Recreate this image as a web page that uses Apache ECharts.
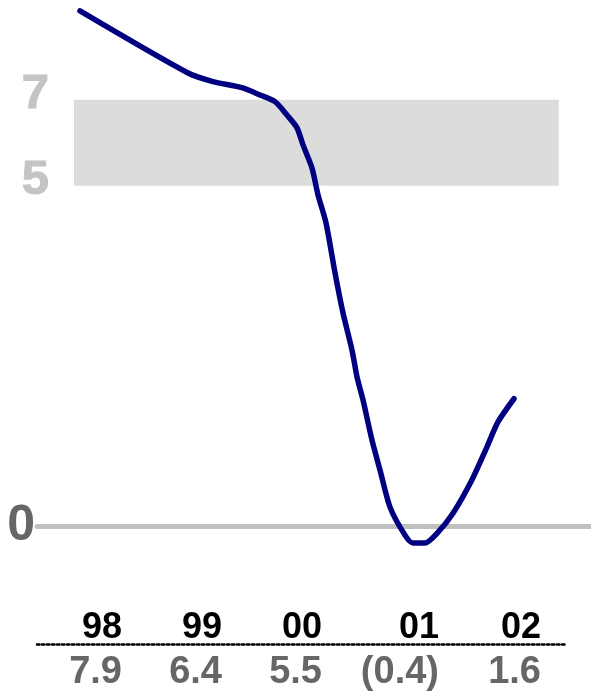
<!DOCTYPE html>
<html><head><meta charset="utf-8">
<script src="https://cdn.jsdelivr.net/npm/echarts@6/dist/echarts.min.js"></script>
<style>html,body{margin:0;padding:0;background:#fff}#c{width:591px;height:695px}</style>
</head><body><div id="c"></div>
<script>
// ---- data ----
// time (fractional year) of each point on the growth line
const lineX = [1997.78, 1998.86, 1999.11, 1999.40, 1999.58, 1999.73, 1999.85, 1999.95, 2000.01, 2000.10,
  2000.16, 2000.24, 2000.33, 2000.41, 2000.50, 2000.55, 2000.61, 2000.70, 2000.78, 2000.88,
  2001.03, 2001.11, 2001.23, 2001.35, 2001.51, 2001.70, 2001.85, 2001.96, 2002.12];
// growth value of each point
const lineY = [8.46, 7.44, 7.30, 7.20, 7.08, 6.97, 6.75, 6.54, 6.26, 5.88,
  5.44, 4.98, 4.16, 3.50, 2.89, 2.45, 2.07, 1.41, 0.92, 0.31,
  -0.15, -0.28, -0.28, -0.12, 0.21, 0.76, 1.30, 1.71, 2.09];
const years = ['98', '99', '00', '01', '02'];
const growth = ['7.9', '6.4', '5.5', '(0.4)', '1.6'];
const band = [5.59, 7];             // shaded target band (low, high)
const bandSpan = [1997.72, 2002.567];
const yTickValues = [0, 5.59, 7];
const yTickLabels = ['0', '5', '7'];

// ---- layout ----
const colPos = [1998.2, 1999.2, 2000.2, 2001.37, 2002.39]; // right edges of the table columns
const FONT = '"Liberation Sans", Arial, sans-serif';

function nearestIdx(arr, v) {
  let b = 0;
  for (let i = 1; i < arr.length; i++) if (Math.abs(arr[i] - v) < Math.abs(arr[b] - v)) b = i;
  return b;
}

const chart = echarts.init(document.getElementById('c'), null, {renderer: 'canvas'});
chart.setOption({
  animation: false,
  backgroundColor: '#fff',
  grid: [
    {left: 37, right: 0, top: 0, bottom: 108.14},
    {left: 37, right: 24, top: 643, height: 1}
  ],
  xAxis: [
    {gridIndex: 0, type: 'value', min: 1997.35, max: 2002.89,
      axisLine: {show: true, onZero: true, lineStyle: {color: '#c0c0c0', width: 5}},
      axisTick: {show: false}, axisLabel: {show: false}, splitLine: {show: false}},
    {gridIndex: 1, type: 'value', position: 'bottom', min: 1997.35, max: 2002.65,
      axisLine: {show: true, lineStyle: {color: '#000', width: 2.5, type: 'dotted'}},
      axisTick: {show: false}, splitLine: {show: false},
      axisLabel: {customValues: colPos, align: 'right', margin: 10,
        color: '#666', fontSize: 38, fontWeight: 'bold', fontFamily: FONT,
        formatter: v => growth[nearestIdx(colPos, v)]}},
    {gridIndex: 1, type: 'value', position: 'top', min: 1997.35, max: 2002.65,
      axisLine: {show: false}, axisTick: {show: false}, splitLine: {show: false},
      axisLabel: {customValues: colPos, align: 'right', margin: -3,
        color: '#000', fontSize: 36, fontWeight: 'bold', fontFamily: FONT,
        formatter: v => years[nearestIdx(colPos, v)]}}
  ],
  yAxis: [
    {gridIndex: 0, type: 'value', min: -1, max: 8.64,
      axisLine: {show: false}, axisTick: {show: false}, splitLine: {show: false},
      axisLabel: {customValues: yTickValues, margin: -12, fontWeight: 'bold', fontFamily: FONT,
        formatter: v => {
          const t = yTickLabels[nearestIdx(yTickValues, v)];
          return t === '0' ? '{zero|' + t + '}' : '{band|' + t + '}';
        },
        rich: {
          zero: {color: '#666', fontSize: 50, fontWeight: 'bold', fontFamily: FONT, padding: [0, 14, 0, 0]},
          band: {color: '#c4c4c4', fontSize: 49, fontWeight: 'bold', fontFamily: FONT, padding: [0, 0, 10, 0],
            textBorderColor: '#c4c4c4', textBorderWidth: 1}
        }}},
    {gridIndex: 1, type: 'value', show: false}
  ],
  series: [
    {type: 'line', xAxisIndex: 0, yAxisIndex: 0, z: 1, data: [], silent: true,
      markArea: {silent: true, itemStyle: {color: '#dcdcdc'},
        data: [[{xAxis: bandSpan[0], yAxis: band[0]}, {xAxis: bandSpan[1], yAxis: band[1]}]]}},
    {type: 'line', xAxisIndex: 0, yAxisIndex: 0, z: 3,
      data: lineX.map((x, i) => [x, lineY[i]]),
      smooth: 0.25, showSymbol: false, symbol: 'none',
      lineStyle: {color: '#000080', width: 5.5, cap: 'round', join: 'round'}}
  ]
});
</script>
</body></html>
